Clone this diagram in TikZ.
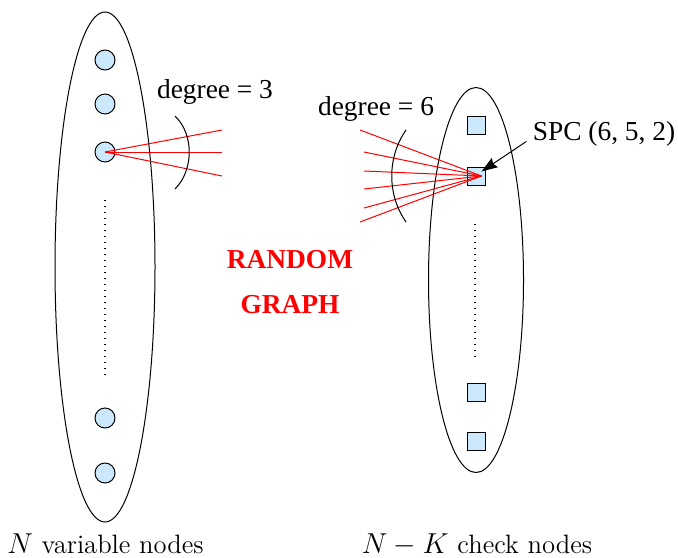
\documentclass[tikz,border=0pt]{standalone}
\usepackage{fontspec}
\newfontfamily\timesfont{Liberation Serif}
\usetikzlibrary{arrows.meta}
\definecolor{nodeblue}{RGB}{204,232,252}
\tikzset{
  varnode/.style={circle,draw,line width=0.5pt,fill=nodeblue,minimum size=10pt,inner sep=0pt},
  chknode/.style={rectangle,draw,line width=0.5pt,fill=nodeblue,minimum size=9pt,inner sep=0pt},
  rededge/.style={red,line width=0.5pt},
  dotline/.style={line width=0.6pt,dash pattern=on 0.5pt off 2.5pt},
  txtlabel/.style={font=\timesfont\fontsize{13.7}{16}\selectfont,inner sep=0pt,anchor=base},
  cmlabel/.style={font=\fontsize{13.3}{16}\selectfont,inner sep=0pt,anchor=base},
  redlabel/.style={font=\timesfont\bfseries\fontsize{13.7}{16}\selectfont,red,inner sep=0pt,anchor=base}
}
\begin{document}
\begin{tikzpicture}[x=0.5pt,y=-0.5pt]
  \useasboundingbox (0,0) rectangle (678,557);
  % variable nodes
  \draw[line width=0.5pt] (105,267) ellipse [x radius=25pt, y radius=127.5pt];
  \node[varnode] (v1) at (105,60) {};
  \node[varnode] (v2) at (105,104) {};
  \node[varnode] (v3) at (105,152) {};
  \node[varnode] (v4) at (105,418) {};
  \node[varnode] (v5) at (105,473) {};
  \draw[dotline] (105,200) -- (105,378);
  \node[cmlabel] (vlabel) at (105.5,553) {$N$ variable nodes};
  % check nodes
  \draw[line width=0.5pt] (476,280) ellipse [x radius=23.75pt, y radius=96.25pt];
  \node[chknode] (c1) at (476,125) {};
  \node[chknode] (c2) at (476,176) {};
  \node[chknode] (c3) at (476,392) {};
  \node[chknode] (c4) at (476,441) {};
  \draw[dotline] (475,224) -- (475,361);
  \node[cmlabel] (clabel) at (477,553) {$N-K$ check nodes};
  % degree 3 edges
  \coordinate (a1) at (222,130);
  \coordinate (a2) at (222,152);
  \coordinate (a3) at (222,176);
  \foreach \e in {a1,a2,a3}
    \draw[rededge] (v3.center) -- (\e);
  \draw[line width=0.5pt] (175,116) .. controls (194,134) and (194,170) .. (175,189);
  \node[txtlabel] (deg3) at (215,98) {degree = 3};
  % degree 6 edges
  \coordinate (hub) at ([xshift=-2pt]c2.east);
  \coordinate (b1) at (360,130);
  \coordinate (b2) at (364,152);
  \coordinate (b3) at (364,171);
  \coordinate (b4) at (364,189);
  \coordinate (b5) at (364,208);
  \coordinate (b6) at (360,222);
  \foreach \e in {b1,b2,b3,b4,b5,b6}
    \draw[rededge] (hub) -- (\e);
  \draw[line width=0.5pt] (406,130) .. controls (387,157) and (387,195) .. (406,222);
  \node[txtlabel] (deg6) at (376,115) {degree = 6};
  % SPC label
  \node[txtlabel] (spc) at (604,140) {SPC (6, 5, 2)};
  \draw[-{Stealth[length=8pt,width=5.5pt,inset=1pt]},line width=0.5pt]
    ([shift={(-3pt,-4pt)}]spc.west) -- ([shift={(-2pt,-2.5pt)}]c2.north east);
  % random graph
  \node[redlabel] (rnd) at (290,268) {RANDOM};
  \node[redlabel] (grph) at (290,313) {GRAPH};
\end{tikzpicture}
\end{document}
